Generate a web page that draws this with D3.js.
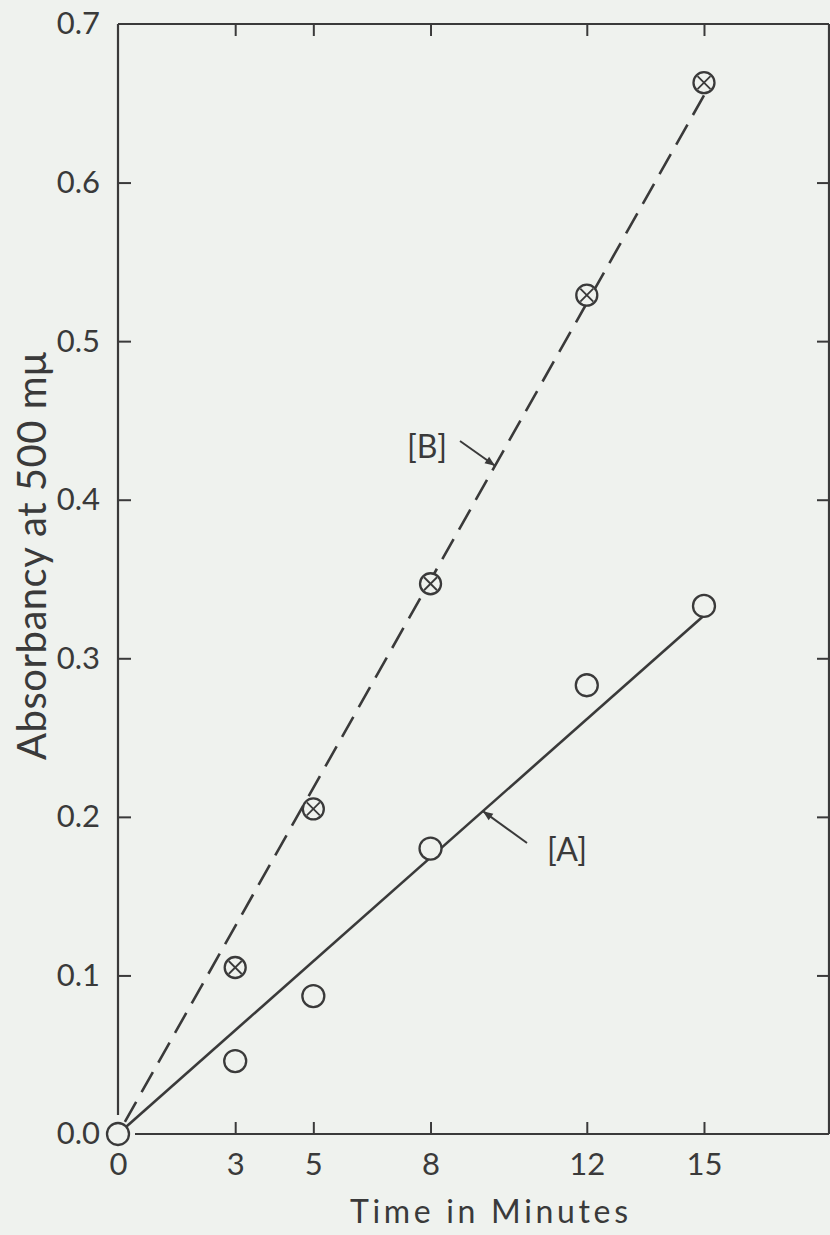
<!DOCTYPE html>
<html><head><meta charset="utf-8">
<script src="https://cdn.jsdelivr.net/npm/d3@7"></script>
<style>
html,body{margin:0;padding:0;background:#eff2ee;}
svg{display:block;}
text{font-family:Lato,"Open Sans",sans-serif;fill:#3a3a3a;}
</style></head><body>
<svg id="c" width="830" height="1235"></svg>
<script>
const times = [0, 3, 5, 8, 12, 15];
const seriesA = [0, 0.046, 0.087, 0.180, 0.283, 0.333];
const seriesB = [0, 0.105, 0.205, 0.347, 0.529, 0.663];
const fitA = [[0, 0], [15, 0.327]];
const fitB = [[0, 0], [15, 0.655]];
const xTicks = [0, 3, 5, 8, 12, 15];
const yTicks = [0, 0.1, 0.2, 0.3, 0.4, 0.5, 0.6, 0.7];
const yTickLabels = ["0.0", "0.1", "0.2", "0.3", "0.4", "0.5", "0.6", "0.7"];
const xTitle = "Time in Minutes";
const yTitle = "Absorbancy at 500 m\u03bc";
const labelA = "[A]", labelB = "[B]";

const ink = "#3a3a3a";
const paper = "#eff2ee";
const svg = d3.select("#c");
const x = d3.scaleLinear().domain([0, 18.2]).range([118, 829]);
const y = d3.scaleLinear().domain([0, 0.7]).range([1134, 24]);

// frame
const g = svg.append("g").attr("stroke", ink).attr("stroke-width", 2.2).attr("fill", "none");
g.append("line").attr("x1", x(0)).attr("x2", x(0)).attr("y1", y(0.7)).attr("y2", y(0) - 19);
g.append("line").attr("x1", x(0) + 17).attr("x2", x(18.2)).attr("y1", y(0)).attr("y2", y(0));
g.append("line").attr("x1", x(0)).attr("x2", x(18.2)).attr("y1", y(0.7)).attr("y2", y(0.7));
g.append("line").attr("x1", x(18.2)).attr("x2", x(18.2)).attr("y1", y(0.7)).attr("y2", y(0));

function styleAxis(sel) {
  sel.select(".domain").remove();
  sel.selectAll(".tick line").attr("stroke", ink).attr("stroke-width", 2);
  sel.selectAll("text").attr("fill", ink).style("font-family", "Lato, sans-serif")
    .attr("font-size", 31).attr("font-weight", 400);
}

// left axis
const ax = svg.append("g").attr("transform", `translate(${x(0)},0)`)
  .call(d3.axisLeft(y).tickValues(yTicks).tickSize(-13).tickPadding(18)
    .tickFormat((d, i) => yTickLabels[i]));
styleAxis(ax);
ax.selectAll(".tick").filter(d => d === 0 || d === 0.7).select("line").remove();

// right axis ticks
const ar = svg.append("g").attr("transform", `translate(${x(18.2)},0)`)
  .call(d3.axisRight(y).tickValues(yTicks.filter(d => d > 0 && d < 0.7)).tickSize(-12).tickFormat(""));
styleAxis(ar);

// bottom axis
const ab = svg.append("g").attr("transform", `translate(0,${y(0)})`)
  .call(d3.axisBottom(x).tickValues(xTicks).tickSize(-12).tickPadding(19).tickFormat(d3.format("d")));
styleAxis(ab);
ab.selectAll(".tick").filter(d => d === 0).select("line").remove();

// top ticks
const at = svg.append("g").attr("transform", `translate(0,${y(0.7)})`)
  .call(d3.axisTop(x).tickValues(xTicks.filter(d => d > 0)).tickSize(-12).tickFormat(""));
styleAxis(at);

// titles
svg.append("text").attr("x", 489).attr("y", 1223).attr("text-anchor", "middle")
  .attr("font-size", 32).attr("font-weight", 400)
  .attr("textLength", 278).attr("lengthAdjust", "spacing").text(xTitle);
svg.append("text").attr("transform", "translate(46,556) rotate(-90)").attr("text-anchor", "middle")
  .attr("font-size", 40).attr("font-weight", 400)
  .attr("textLength", 408).attr("lengthAdjust", "spacing").text(yTitle);

// lines
const line = d3.line().x(d => x(d[0])).y(d => y(d[1]));
svg.append("path").datum(fitB).attr("d", line).attr("fill", "none")
  .attr("stroke", ink).attr("stroke-width", 2.6).attr("stroke-dasharray", "23,11")
  .attr("stroke-dashoffset", -14);
svg.append("path").datum(fitA).attr("d", line).attr("fill", "none")
  .attr("stroke", ink).attr("stroke-width", 2.6);

const r = 11;
// series A markers (open circles)
svg.append("g").selectAll("circle").data(times.map((t, i) => [t, seriesA[i]]))
  .join("circle").attr("cx", d => x(d[0])).attr("cy", d => y(d[1])).attr("r", r)
  .attr("fill", paper).attr("stroke", ink).attr("stroke-width", 2.3);
// series B markers (crossed circles), origin shared with A
const bPts = times.map((t, i) => [t, seriesB[i]]).filter(d => d[0] > 0);
const bg = svg.append("g").selectAll("g").data(bPts).join("g")
  .attr("transform", d => `translate(${x(d[0])},${y(d[1])})`);
bg.append("circle").attr("r", 10.5).attr("fill", paper).attr("stroke", ink).attr("stroke-width", 2.3);
const k = 6.5;
bg.append("line").attr("x1", -k).attr("y1", -k).attr("x2", k).attr("y2", k).attr("stroke", ink).attr("stroke-width", 1.8);
bg.append("line").attr("x1", k).attr("y1", -k).attr("x2", -k).attr("y2", k).attr("stroke", ink).attr("stroke-width", 1.8);

// annotations
svg.append("defs").append("marker").attr("id", "ah").attr("viewBox", "0 0 10 10")
  .attr("refX", 10).attr("refY", 5)
  .attr("orient", "auto").attr("markerUnits", "userSpaceOnUse")
  .attr("markerWidth", 17).attr("markerHeight", 10)
  .append("path").attr("d", "M0,1 L10,5 L0,9 z").attr("fill", ink);

const onFit = (fit, t) => fit[0][1] + (fit[1][1] - fit[0][1]) * (t - fit[0][0]) / (fit[1][0] - fit[0][0]);
const tipB = 9.65, tipA = 9.34;
svg.append("text").attr("x", 427).attr("y", 458).attr("text-anchor", "middle")
  .attr("font-size", 32).attr("font-weight", 400).text(labelB);
svg.append("line").attr("x1", 460).attr("y1", 441).attr("x2", x(tipB)).attr("y2", y(onFit(fitB, tipB)))
  .attr("stroke", ink).attr("stroke-width", 2).attr("marker-end", "url(#ah)");
svg.append("text").attr("x", 567).attr("y", 861).attr("text-anchor", "middle")
  .attr("font-size", 32).attr("font-weight", 400).text(labelA);
svg.append("line").attr("x1", 527).attr("y1", 843).attr("x2", x(tipA)).attr("y2", y(onFit(fitA, tipA)))
  .attr("stroke", ink).attr("stroke-width", 2).attr("marker-end", "url(#ah)");
</script>
</body></html>
